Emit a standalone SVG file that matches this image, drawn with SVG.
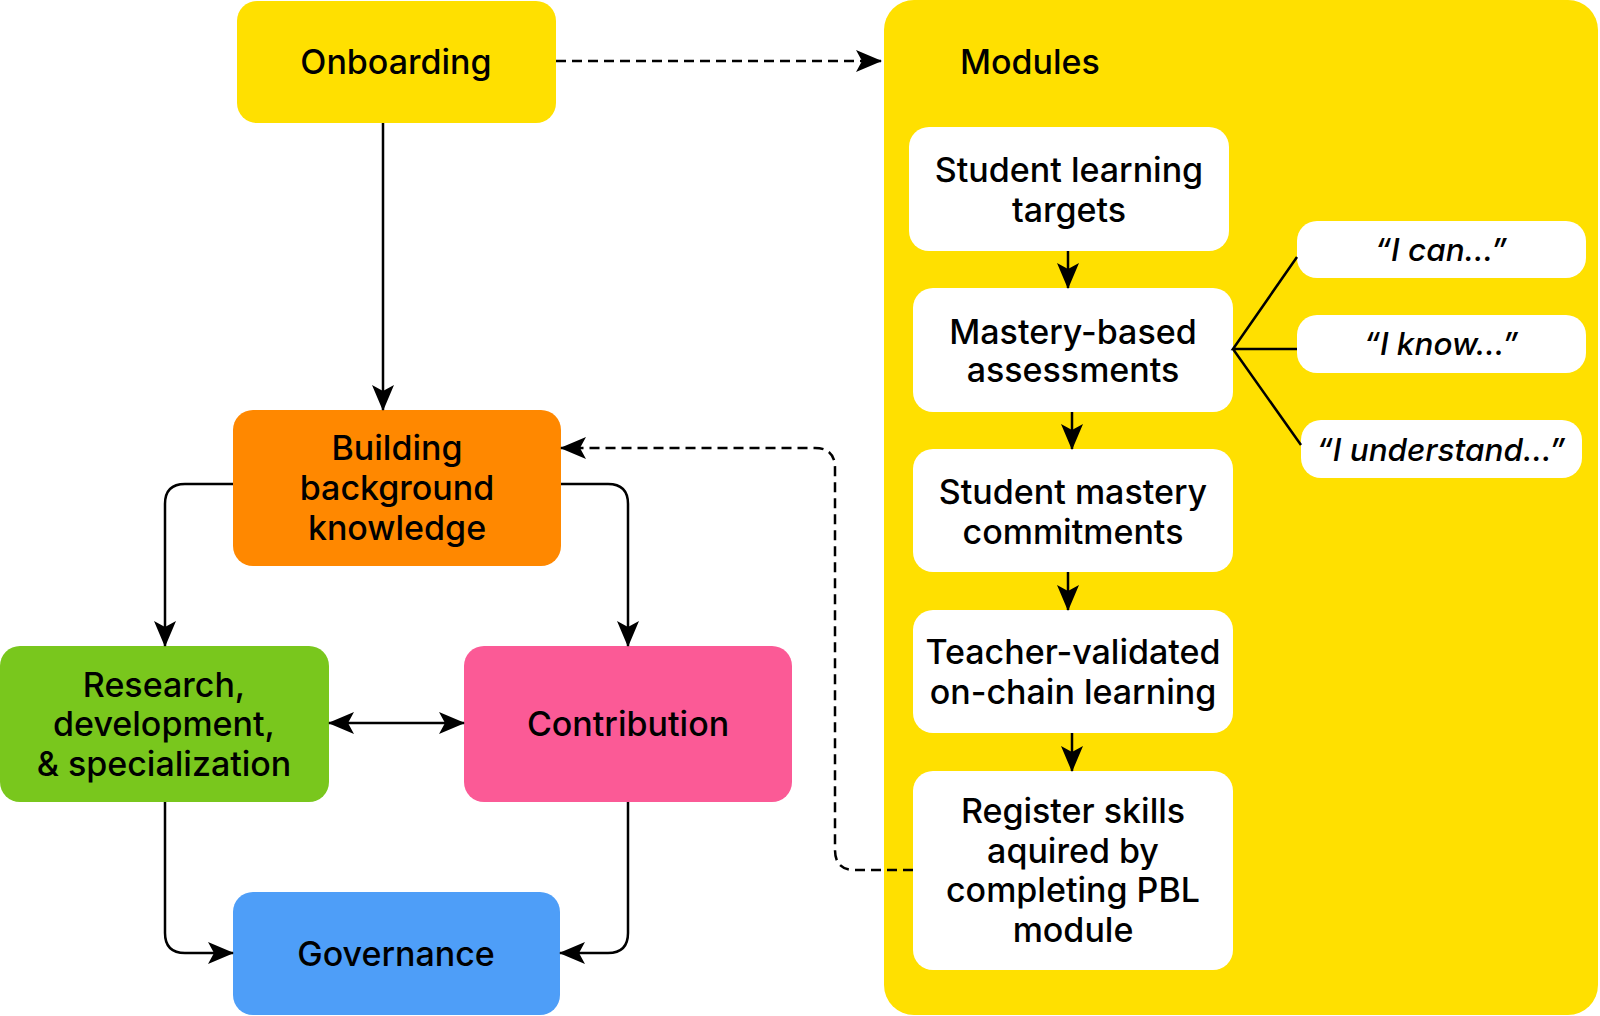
<svg xmlns="http://www.w3.org/2000/svg" width="1600" height="1016" viewBox="0 0 1600 1016">
<style>
text{font-family:Inter,"Noto Sans","Liberation Sans",sans-serif;font-size:34px;font-weight:500;fill:#000;text-anchor:middle;dominant-baseline:central}
.q{font-style:italic;font-size:31.5px}
.w{fill:#fff}
.ln{fill:none;stroke:#000;stroke-width:2.5}
.dash{stroke-dasharray:10 6}
</style>
<defs>
<marker id="ah" viewBox="0 0 26 22" refX="25" refY="11" markerWidth="26" markerHeight="22" markerUnits="userSpaceOnUse" orient="auto-start-reverse">
<path d="M0,0 L26,11 L0,22 L6,11 Z" fill="#000"/>
</marker>
</defs>
<g id="modules">
<rect x="884" y="0" width="714" height="1015" rx="30" fill="#FFE000"/>
<text x="960" y="61" style="text-anchor:start">Modules</text>
</g>
<g id="onboarding">
<rect x="237" y="1" width="319" height="122" rx="20" fill="#FFE000"/>
<text x="396" y="61">Onboarding</text>
</g>
<g id="building">
<rect x="233" y="410" width="328" height="156" rx="20" fill="#FF8800"/>
<text x="397" y="447">Building</text>
<text x="397" y="487">background</text>
<text x="397" y="527">knowledge</text>
</g>
<g id="research">
<rect x="0" y="646" width="329" height="156" rx="20" fill="#79C71D"/>
<text x="164" y="684">Research,</text>
<text x="164" y="723">development,</text>
<text x="164" y="763">&amp; specialization</text>
</g>
<g id="contribution">
<rect x="464" y="646" width="328" height="156" rx="20" fill="#FB5A96"/>
<text x="628" y="723">Contribution</text>
</g>
<g id="governance">
<rect x="233" y="892" width="327" height="123" rx="20" fill="#4E9EF8"/>
<text x="396" y="953">Governance</text>
</g>
<g id="targets">
<rect class="w" x="909" y="127" width="320" height="124" rx="20"/>
<text x="1069" y="169">Student learning</text>
<text x="1069" y="209">targets</text>
</g>
<g id="mastery">
<rect class="w" x="913" y="288" width="320" height="124" rx="20"/>
<text x="1073" y="331">Mastery-based</text>
<text x="1073" y="369">assessments</text>
</g>
<g id="commitments">
<rect class="w" x="913" y="449" width="320" height="123" rx="20"/>
<text x="1073" y="491">Student mastery</text>
<text x="1073" y="531">commitments</text>
</g>
<g id="teacher">
<rect class="w" x="913" y="610" width="320" height="123" rx="20"/>
<text x="1073" y="651">Teacher-validated</text>
<text x="1073" y="691">on-chain learning</text>
</g>
<g id="register">
<rect class="w" x="913" y="771" width="320" height="199" rx="20"/>
<text x="1073" y="810">Register skills</text>
<text x="1073" y="850">aquired by</text>
<text x="1073" y="889">completing PBL</text>
<text x="1073" y="929">module</text>
</g>
<g id="ican">
<rect class="w" x="1297" y="221" width="289" height="57" rx="20"/>
<text class="q" x="1441" y="249">“I can…”</text>
</g>
<g id="iknow">
<rect class="w" x="1297" y="315" width="289" height="58" rx="20"/>
<text class="q" x="1441" y="343">“I know…”</text>
</g>
<g id="iunderstand">
<rect class="w" x="1301" y="420" width="281" height="58" rx="20"/>
<text class="q" x="1441" y="449">“I understand…”</text>
</g>
<g id="connectors">
<path class="ln dash" d="M556,61 H881" marker-end="url(#ah)"/>
<path class="ln" d="M383,123 V410" marker-end="url(#ah)"/>
<path class="ln" d="M233,484 H185 Q165,484 165,504 V646" marker-end="url(#ah)"/>
<path class="ln" d="M561,484 H608 Q628,484 628,504 V646" marker-end="url(#ah)"/>
<path class="ln" d="M329,723 H464" marker-start="url(#ah)" marker-end="url(#ah)"/>
<path class="ln" d="M165,802 V933 Q165,953 185,953 H233" marker-end="url(#ah)"/>
<path class="ln" d="M628,802 V933 Q628,953 608,953 H560" marker-end="url(#ah)"/>
<path class="ln dash" d="M913,870 H855 Q835,870 835,850 V468 Q835,448 815,448 H561" marker-end="url(#ah)"/>
<path class="ln" d="M1068,251 V288" marker-end="url(#ah)"/>
<path class="ln" d="M1072,412 V449" marker-end="url(#ah)"/>
<path class="ln" d="M1068,572 V610" marker-end="url(#ah)"/>
<path class="ln" d="M1072,733 V771" marker-end="url(#ah)"/>
<path class="ln" d="M1297,257 L1233,349 L1297,349 M1233,349 L1301,445"/>
</g>
</svg>
